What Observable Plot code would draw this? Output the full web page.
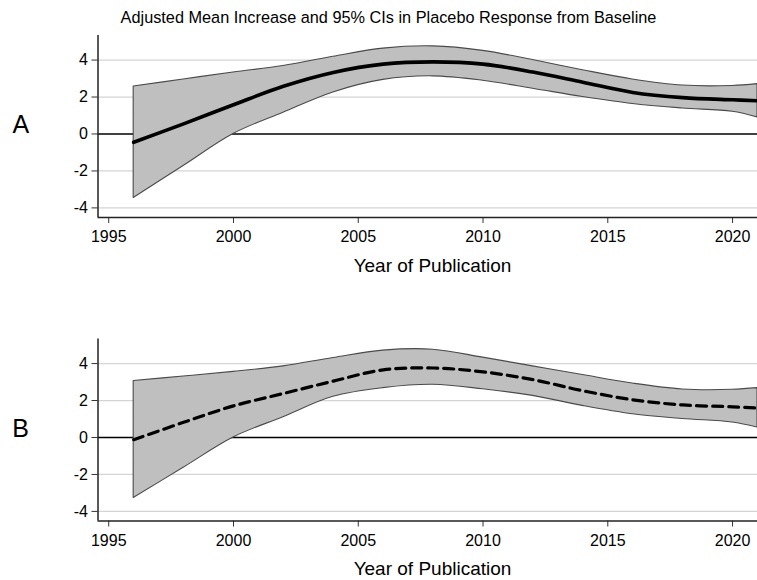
<!DOCTYPE html>
<html>
<head>
<meta charset="utf-8">
<script src="https://cdn.jsdelivr.net/npm/d3@7"></script>
<script src="https://cdn.jsdelivr.net/npm/@observablehq/plot@0.6"></script>
<style>
  html, body { margin: 0; padding: 0; background: #fff; overflow: hidden; }
  #wrap { position: relative; width: 757px; height: 580px; overflow: hidden; font-family: "Liberation Sans", Arial, sans-serif; color: #000; }
  .txt { position: absolute; line-height: 1; white-space: nowrap; }
  .panel { position: absolute; left: 0; }
</style>
</head>
<body>
<div id="wrap">
  <div class="txt" id="title" style="font-size:16.3px; top:9.3px; left:0; width:777px; text-align:center;">Adjusted Mean Increase and 95% CIs in Placebo Response from Baseline</div>
  <div class="panel" id="pA" style="top:0;"></div>
  <div class="panel" id="pB" style="top:290px;"></div>
  <div class="txt" style="font-size:25px; top:111.5px; left:12.5px;">A</div>
  <div class="txt" style="font-size:25px; top:416px; left:12.3px;">B</div>
  <div class="txt" style="font-size:19px; top:255.6px; left:0; width:865px; text-align:center;">Year of Publication</div>
  <div class="txt" style="font-size:19px; top:559px; left:0; width:865px; text-align:center;">Year of Publication</div>
</div>
<script>
// ---- data ----
const years = [1996, 1998, 2000, 2002, 2004, 2006, 2008, 2010, 2012, 2014, 2016, 2018, 2020, 2021];

const upperA = [2.57, 2.95, 3.33, 3.68, 4.18, 4.62, 4.74, 4.5, 4.0, 3.45, 2.95, 2.62, 2.6, 2.7];
const meanA  = [-0.45, 0.55, 1.58, 2.58, 3.33, 3.78, 3.9, 3.78, 3.35, 2.8, 2.25, 1.97, 1.85, 1.8];
const lowerA = [-3.46, -1.73, 0.0, 1.15, 2.25, 2.93, 3.12, 2.88, 2.45, 2.0, 1.62, 1.38, 1.2, 0.9];

const upperB = [3.06, 3.3, 3.55, 3.85, 4.3, 4.7, 4.75, 4.32, 3.85, 3.38, 2.92, 2.6, 2.58, 2.67];
const meanB  = [-0.12, 0.82, 1.71, 2.38, 3.05, 3.66, 3.76, 3.55, 3.13, 2.53, 2.04, 1.76, 1.66, 1.59];
const lowerB = [-3.28, -1.64, 0.0, 1.1, 2.2, 2.67, 2.85, 2.61, 2.25, 1.71, 1.26, 1.0, 0.81, 0.54];

const xTicks = [1995, 2000, 2005, 2010, 2015, 2020];
const yTicks = [-4, -2, 0, 2, 4];
const gridY = [-4, -2, 2, 4];

const xDomain = [1994.57, 2021];
const yDomain = [-4.52, 5.33];

function panel(upper, mean, lower, dashed, marginTop, marginBottom) {
  const data = years.map((yr, i) => ({year: yr, lo: lower[i], hi: upper[i], m: mean[i]}));
  return Plot.plot({
    width: 757,
    height: 290,
    marginLeft: 97.5,
    marginRight: 0,
    marginTop,
    marginBottom,
    x: {domain: xDomain},
    y: {domain: yDomain},
    style: {fontFamily: "'Liberation Sans', Arial, sans-serif", fontSize: "16px", color: "#000", background: "transparent", overflow: "hidden"},
    marks: [
      Plot.ruleY(gridY, {stroke: "#d4d4d4", strokeWidth: 1.2}),
      Plot.ruleY([0], {stroke: "#000", strokeWidth: 1.5}),
      Plot.areaY(data, {x: "year", y1: "lo", y2: "hi", fill: "#bfbfbf", stroke: "#4a4a4a", strokeWidth: 1.1, curve: "catmull-rom"}),
      Plot.lineY(data, {x: "year", y: "m", stroke: "#000", strokeWidth: dashed ? 3.2 : 3.6, curve: "catmull-rom",
        strokeDasharray: dashed ? "10,6" : null}),
      Plot.axisX({ticks: xTicks, tickFormat: d => String(d), tickSize: 6, tickPadding: 7.5, label: null, stroke: "#333"}),
      Plot.axisY({ticks: yTicks, tickFormat: d => String(d), tickSize: 6, tickPadding: 4, label: null, stroke: "#333"}),
      Plot.ruleX([xDomain[0]], {stroke: "#222", strokeWidth: 1.5}),
      Plot.ruleY([yDomain[0]], {stroke: "#222", strokeWidth: 1.5})
    ]
  });
}

document.getElementById("pA").appendChild(panel(upperA, meanA, lowerA, false, 35, 73));
document.getElementById("pB").appendChild(panel(upperB, meanB, lowerB, true, 48.5, 59.5));
</script>
</body>
</html>
